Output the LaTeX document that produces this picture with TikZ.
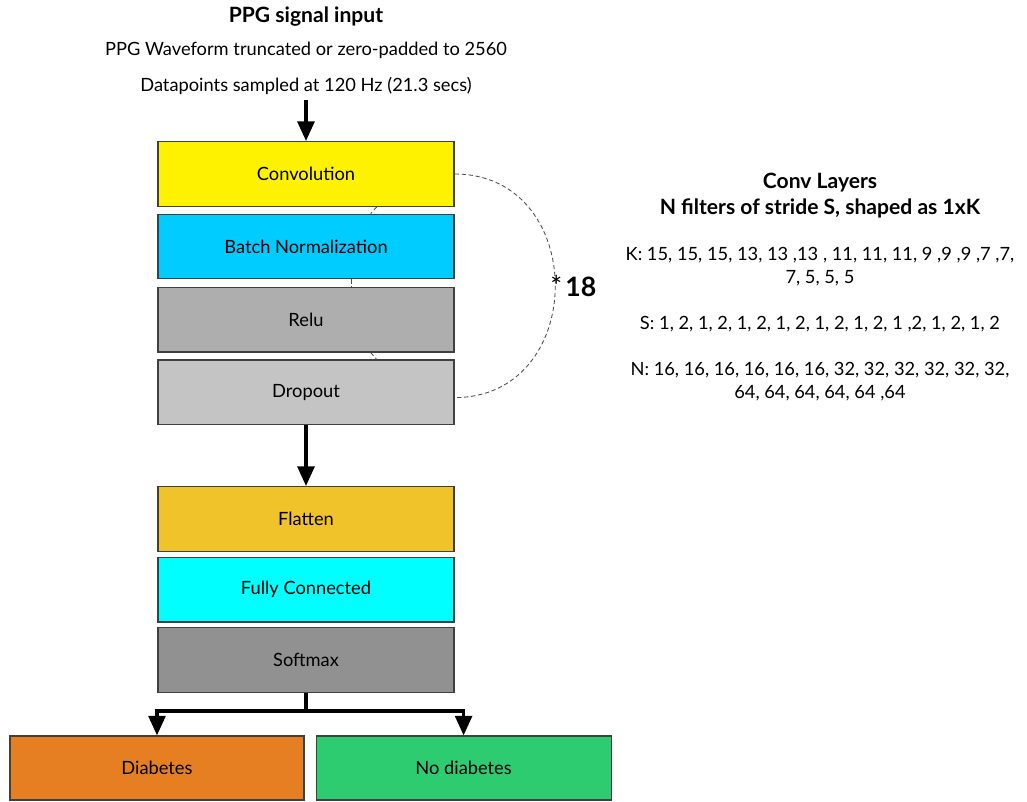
\documentclass[tikz,border=0pt]{standalone}
\usepackage{fontspec}
\setmainfont{Lato}
\usepackage{tikz}
\usetikzlibrary{arrows.meta}

\definecolor{convyellow}{RGB}{255,242,0}
\definecolor{bnblue}{RGB}{0,204,255}
\definecolor{relugray}{RGB}{174,174,174}
\definecolor{dropgray}{RGB}{196,196,196}
\definecolor{flatgold}{RGB}{239,195,41}
\definecolor{fccyan}{RGB}{0,255,255}
\definecolor{softgray}{RGB}{145,145,145}
\definecolor{diaborange}{RGB}{230,126,34}
\definecolor{nodiabgreen}{RGB}{46,204,113}

\begin{document}
\begin{tikzpicture}[
    font=\fontsize{13}{16}\selectfont,
    layer/.style={draw=black!75, line width=0.8pt, minimum width=7.4cm, minimum height=1.62cm, inner sep=0pt},
    arr/.style={-{Triangle[width=12pt,length=14pt]}, line width=2.4pt},
    link/.style={dash pattern=on 3pt off 2pt, black!70, line width=0.6pt}
  ]
    \useasboundingbox (0,0) rectangle (25.675,-20.05);
    % input description
    \node[font=\fontsize{15}{18}\selectfont\bfseries] (title) at (7.65,-0.42) {PPG signal input};
    \node (wave) at (7.65,-1.25) {PPG Waveform truncated or zero-padded to 2560};
    \node (pts) at (7.65,-2.15) {Datapoints sampled at 120 Hz (21.3 secs)};
    % conv block
    \node[layer, fill=convyellow] (conv) at (7.65,-4.35) {Convolution};
    \node[layer, fill=bnblue] (bn) at (7.65,-6.1625) {Batch Normalization};
    \node[layer, fill=relugray] (relu) at (7.65,-7.99) {Relu};
    \node[layer, fill=dropgray] (drop) at (7.65,-9.81) {Dropout};
    % head
    \node[layer, fill=flatgold] (flat) at (7.65,-12.975) {Flatten};
    \node[layer, fill=fccyan] (fc) at (7.65,-14.74) {Fully Connected};
    \node[layer, fill=softgray] (soft) at (7.65,-16.5) {Softmax};
    \node[layer, fill=diaborange, minimum width=7.35cm, minimum height=1.6cm] (diab) at (3.925,-19.2) {Diabetes};
    \node[layer, fill=nodiabgreen, minimum width=7.375cm, minimum height=1.6cm] (nodiab) at (11.59,-19.2) {No diabetes};
    % layer settings
    \node[align=center, font=\fontsize{15}{19}\selectfont\bfseries] (convt) at (20.5,-4.89) {Conv Layers\\N filters of stride S, shaped as 1xK};
    \node[align=center] (klist) at (20.5,-6.66) {K: 15, 15, 15, 13, 13 ,13 , 11, 11, 11, 9 ,9 ,9 ,7 ,7,\\7, 5, 5, 5};
    \node (slist) at (20.5,-8.1) {S: 1, 2, 1, 2, 1, 2, 1, 2, 1, 2, 1, 2, 1 ,2, 1, 2, 1, 2};
    \node[align=center] (nlist) at (20.5,-9.54) {N: 16, 16, 16, 16, 16, 16, 32, 32, 32, 32, 32, 32,\\64, 64, 64, 64, 64 ,64};

    \draw[arr] (pts.south) -- (conv.north);
    \draw[link] (conv.-25) -- (bn.27);
    \draw[link] (bn.-36) -- (relu.36);
    \draw[link] (relu.-27) -- (drop.25);
    \draw[link] (conv.east) to[out=0,in=0,looseness=1.54]
      node[pos=0.5, anchor=west, xshift=-0.25cm, black] (rep) {{\fontsize{20}{22}\selectfont *}\,{\fontsize{19}{22}\selectfont\bfseries 18}} (drop.-2);
    \draw[arr] (drop.south) -- (flat.north);
    \draw[arr] (soft.south) -- ++(0,-0.45) -| (diab.north);
    \draw[arr] (soft.south) -- ++(0,-0.45) -| (nodiab.north);
\end{tikzpicture}
\end{document}
